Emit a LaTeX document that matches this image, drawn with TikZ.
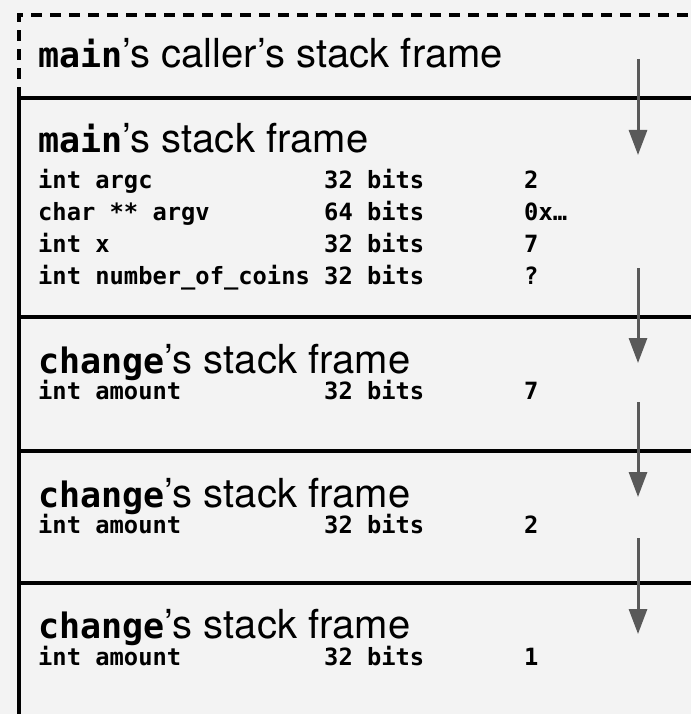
\documentclass[tikz,border=0pt]{standalone}
\usepackage{fontspec}
\setmainfont{TeX Gyre Heros}
\newfontfamily\codefont{DejaVu Sans Mono}
\usetikzlibrary{arrows.meta}
\definecolor{bgcol}{HTML}{F3F3F3}
\definecolor{arrowgray}{HTML}{595959}
\tikzset{
  titletext/.style={anchor=base west, inner sep=0pt, font=\fontsize{40}{48}\selectfont},
  cell/.style={anchor=base west, inner sep=0pt, font=\codefont\bfseries\fontsize{23.75}{28}\selectfont},
  frameline/.style={line width=3.5pt, draw=black},
  callarrow/.style={line width=3pt, draw=arrowgray, -{Triangle[width=18pt,length=25pt]}},
}
\newcommand{\fn}[1]{{\codefont\bfseries\fontsize{35}{42}\selectfont #1}}
\begin{document}
\begin{tikzpicture}[x=1pt,y=-1pt]
\fill[bgcol] (0,0) rectangle (691,714);
\useasboundingbox (0,0) rectangle (691,714);
% frames
\draw[frameline, dash pattern=on 11pt off 8pt] (19,98) -- (19,15) -- (691,15);
\draw[frameline] (19,714) -- (19,98) -- (691,98);
\draw[frameline] (19,317) -- (691,317);
\draw[frameline] (19,451) -- (691,451);
\draw[frameline] (19,583) -- (691,583);
% titles
\node[titletext] (t0) at (38,68) {\fn{main}’s caller’s stack frame};
\node[titletext] (t1) at (38,153) {\fn{main}’s stack frame};
\node[titletext] (t2) at (38,373) {\fn{change}’s stack frame};
\node[titletext] (t3) at (38,507) {\fn{change}’s stack frame};
\node[titletext] (t4) at (38,638) {\fn{change}’s stack frame};
% main rows
\node[cell] (r1a) at (38,189) {int argc};
\node[cell] (r1b) at (324,189) {32 bits};
\node[cell] (r1c) at (524,189) {2};
\node[cell] (r2a) at (38,220) {char ** argv};
\node[cell] (r2b) at (324,220) {64 bits};
\node[cell] (r2c) at (524,220) {0x…};
\node[cell] (r3a) at (38,252) {int x};
\node[cell] (r3b) at (324,252) {32 bits};
\node[cell] (r3c) at (524,252) {7};
\node[cell] (r4a) at (38,284) {int number\_of\_coins};
\node[cell] (r4b) at (324,284) {32 bits};
\node[cell] (r4c) at (524,284) {?};
% change rows
\node[cell] (c1a) at (38,399) {int amount};
\node[cell] (c1b) at (324,399) {32 bits};
\node[cell] (c1c) at (524,399) {7};
\node[cell] (c2a) at (38,533) {int amount};
\node[cell] (c2b) at (324,533) {32 bits};
\node[cell] (c2c) at (524,533) {2};
\node[cell] (c3a) at (38,665) {int amount};
\node[cell] (c3b) at (324,665) {32 bits};
\node[cell] (c3c) at (524,665) {1};
% call arrows
\coordinate (a1s) at (638,59);  \coordinate (a1e) at (638,155);
\coordinate (a2s) at (638,268); \coordinate (a2e) at (638,363);
\coordinate (a3s) at (638,402); \coordinate (a3e) at (638,497);
\coordinate (a4s) at (638,538); \coordinate (a4e) at (638,634);
\draw[callarrow] (a1s) -- (a1e);
\draw[callarrow] (a2s) -- (a2e);
\draw[callarrow] (a3s) -- (a3e);
\draw[callarrow] (a4s) -- (a4e);
\end{tikzpicture}
\end{document}
